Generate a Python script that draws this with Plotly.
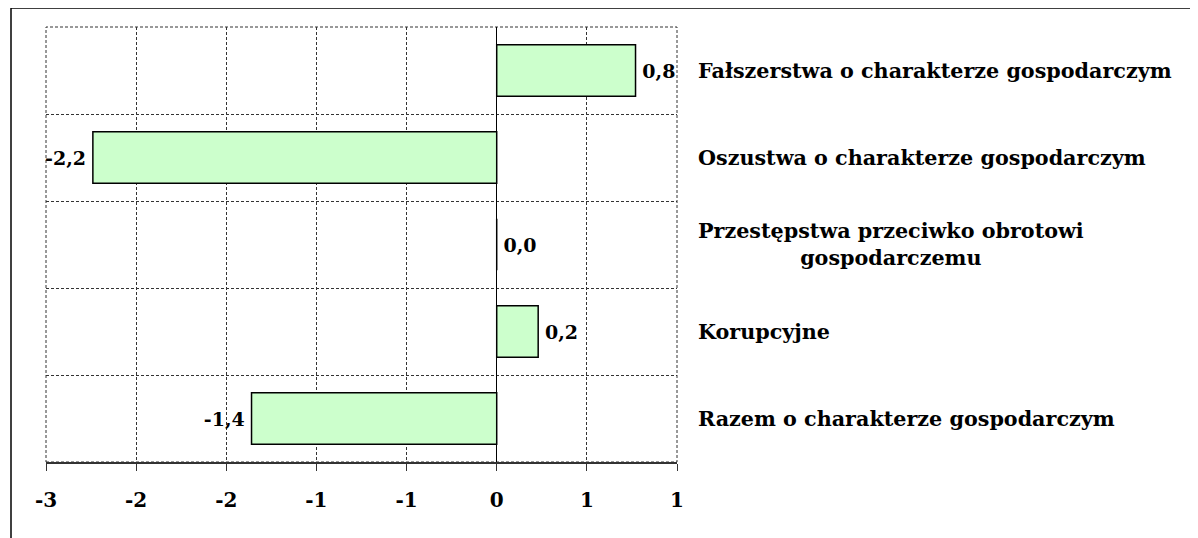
import plotly.graph_objects as go

# ── data ─────────────────────────────────────────────────────────────────────
categories = [
    "Fałszerstwa o charakterze gospodarczym",
    "Oszustwa o charakterze gospodarczym",
    "Przestępstwa przeciwko obrotowi<br>gospodarczemu",
    "Korupcyjne",
    "Razem o charakterze gospodarczym",
]
values = [0.77, -2.24, 0.0, 0.23, -1.36]
tick_vals = [-2.5, -2.0, -1.5, -1.0, -0.5, 0.0, 0.5, 1.0]
tick_text = ["-3", "-2", "-2", "-1", "-1", "0", "1", "1"]

FONT = "DejaVu Serif"
W, H = 1198, 538
L, T = 38, 19
PW, PH = 631, 435
R, B = W - L - PW, H - T - PH

# comma decimals, a thin space between bar end and label
labels = [
    ("\u2009" + f"{v:.1f}" if v >= 0 else f"{v:.1f}" + "\u2009").replace(".", ",")
    for v in values
]

fig = go.Figure(go.Bar(
    x=values, y=categories, orientation="h",
    marker=dict(color="#CCFFCC", line=dict(color="black", width=1.5)),
    text=labels, textposition="outside", cliponaxis=False,
    constraintext="none",
    textfont=dict(family=FONT, size=19, color="black", weight="bold"),
    width=0.59,
))

# category names to the right of the plot area
for cat in categories:
    fig.add_annotation(
        x=1, xref="paper", xshift=19, xanchor="left",
        y=cat, yref="y", text=cat, showarrow=False, align="center",
        font=dict(family=FONT, size=20.7, color="black", weight="bold"),
    )

# dashed border of the plot area (edge gridlines)
fig.add_shape(type="rect", xref="paper", yref="paper", x0=0, x1=1, y0=0, y1=1,
              line=dict(color="#333", width=1, dash="3px,2px"), layer="below")

# outer frame (top + left edge)
fx = (3 - L) / PW
fy = 1 + T / PH
fig.add_shape(type="line", xref="paper", yref="paper",
              x0=fx, x1=2, y0=fy, y1=fy, line=dict(color="black", width=1.5))
fig.add_shape(type="line", xref="paper", yref="paper",
              x0=fx, x1=fx, y0=-1, y1=fy, line=dict(color="black", width=1.5))

fig.update_layout(
    width=W, height=H, autosize=False,
    margin=dict(l=L, r=R, t=T, b=B),
    paper_bgcolor="white", plot_bgcolor="white",
    showlegend=False,
)
fig.update_xaxes(
    range=[-2.5, 1.0], tickvals=tick_vals, ticktext=tick_text,
    showgrid=True, gridcolor="#333", gridwidth=1, griddash="3px,2px",
    zeroline=True, zerolinecolor="black", zerolinewidth=1,
    showline=True, linecolor="#333", linewidth=1.5,
    ticks="outside", ticklen=7, tickcolor="#333",
    tickfont=dict(family=FONT, size=20, color="black", weight="bold"),
    ticklabelstandoff=12,
)
fig.update_yaxes(
    type="category", categoryorder="array", categoryarray=categories,
    autorange="reversed", tickson="boundaries",
    showticklabels=False, showgrid=True, gridcolor="#333", gridwidth=1,
    griddash="3px,2px", showline=False, ticks="",
)

fig.write_html("out.html")
